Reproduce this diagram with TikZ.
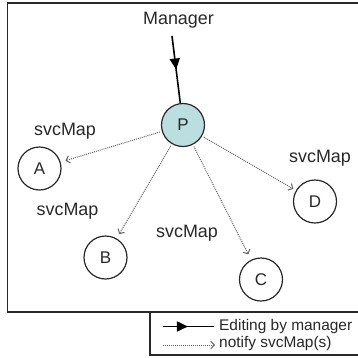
\documentclass[tikz,border=0pt]{standalone}
\usepackage{fontspec}
\setmainfont{Liberation Sans}
\usetikzlibrary{arrows.meta,decorations.markings}
\definecolor{pfill}{RGB}{187,223,224}
\definecolor{ink}{RGB}{40,40,40}
\definecolor{notegray}{RGB}{100,100,100}
\begin{document}
\begin{tikzpicture}[x=1bp,y=-1bp,
  peer/.style={circle,draw=ink,line width=1.2bp,minimum size=43bp,inner sep=0pt,
    font=\fontsize{17}{17}\selectfont,text=ink},
  lbl/.style={inner sep=0pt,font=\fontsize{18}{18}\selectfont,text=ink},
  legtext/.style={anchor=west,inner sep=0pt,font=\fontsize{15.5}{15.5}\selectfont,text=ink},
  notify/.style={draw=notegray,line width=1bp,dash pattern=on 1bp off 1bp,
    -{Straight Barb[length=3.5bp,width=7.5bp,line width=1bp]}},
  midtip/.style={postaction={decorate},decoration={markings,
    mark=at position #1 with {\arrow{Triangle[length=11bp,width=10bp]}}}},
  edit/.style={draw=black,line width=1.6bp},
  frame/.style={draw=ink,line width=1.2bp}]
\useasboundingbox (0,0) rectangle (358,358);

% outer frame (open on the right) and legend box
\draw[frame] (358,3) -- (7.5,3) -- (7.5,312) -- (358,312);
\draw[frame] (150,312) -- (150,355) -- (358,355);

% nodes
\node[peer,fill=pfill] (P) at (183,125) {P};
\node[peer] (A) at (39.5,168.5) {A};
\node[peer] (B) at (105.5,257.5) {B};
\node[peer] (C) at (261,279.5) {C};
\node[peer] (D) at (315,201.5) {D};

% labels
\node[lbl] (mgr) at (178.5,20) {Manager};
\node[lbl] (sA) at (65,131) {svcMap};
\node[lbl] (sD) at (320,158) {svcMap};
\node[lbl] (sB) at (67.5,211.5) {svcMap};
\node[lbl] (sC) at (187,233.5) {svcMap};

% manager edit
\coordinate (mgrStart) at (172,36);
\draw[edit,midtip=0.5] (mgrStart) -- (P);

% notifications
\draw[notify,shorten <=2bp,shorten >=5bp] (P) -- (A);
\draw[notify,shorten <=2bp,shorten >=5bp] (P) -- (B);
\draw[notify,shorten <=2bp,shorten >=6bp] (P) -- (C);
\draw[notify,shorten <=2bp,shorten >=3bp] (P) -- (D);

% legend
\node[legtext] (t1) at (219,326.5) {Editing by manager};
\node[legtext] (t2) at (219,344) {notify svcMap(s)};
\coordinate (l1) at (162.5,326.5);
\coordinate (l2) at (162.5,345);
\draw[edit,midtip=0.45,line width=1.8bp,shorten >=5bp] (l1) -- (t1.west);
\draw[notify,shorten >=4bp] (l2) -- (t2.west |- l2);
\end{tikzpicture}
\end{document}
